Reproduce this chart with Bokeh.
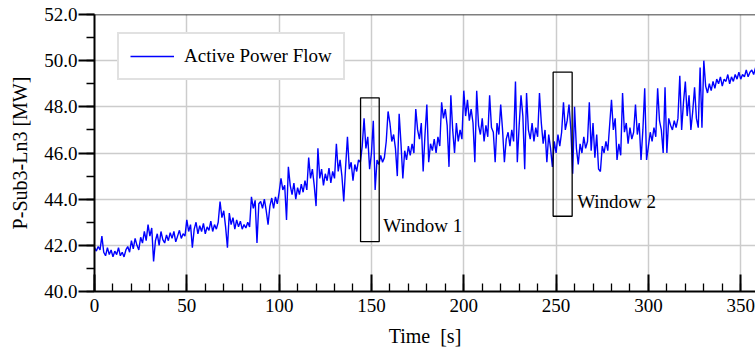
from bokeh.plotting import figure
from bokeh.models import Range1d, Legend, LegendItem, PrintfTickFormatter, SingleIntervalTicker, Span
from bokeh.core.properties import value
from bokeh.embed import file_html
from bokeh.resources import INLINE

# ---- data (one sample per second) ----
power_mw = [
    41.9, 41.75, 41.95, 41.8, 42.4, 41.7, 41.55, 41.9, 41.6, 41.8,
    41.5, 41.75, 41.6, 41.9, 41.55, 41.7, 41.5, 41.8, 41.95, 41.7,
    42.2, 41.85, 42.3, 42.0, 41.8, 42.35, 42.1, 42.6, 42.2, 42.9,
    42.4, 42.75, 41.3, 42.2, 42.5, 42.0, 42.6, 42.25, 42.1, 42.45,
    42.2, 42.55, 42.3, 42.6, 42.15, 42.4, 42.65, 42.3, 42.5, 42.4,
    43.1, 42.6, 42.9, 41.9, 42.7, 43.0, 42.5, 42.85, 42.6, 42.95,
    42.5, 42.8, 42.65, 43.05, 42.6, 42.9, 42.7, 43.0, 43.9, 43.2,
    43.5, 42.8, 41.9, 43.4, 42.9, 43.2, 42.7, 43.1, 42.8, 43.05,
    42.7, 42.9, 42.75, 43.0, 42.8, 44.1, 43.6, 43.95, 42.1, 43.8,
    43.9, 43.6, 44.0, 43.5, 42.9, 43.7, 44.05, 43.6, 44.1, 43.8,
    44.3, 44.9, 44.4, 44.6, 43.1, 45.4, 44.6, 44.2, 44.7, 44.0,
    44.5, 44.2, 44.65, 44.3, 44.8, 44.4, 45.8, 44.9, 45.3, 44.6,
    43.7, 46.2, 44.9, 45.3, 44.6, 45.1, 44.8, 45.35, 44.7, 45.2,
    44.9, 46.4, 45.2, 45.7, 45.0, 43.9, 45.4, 46.7, 45.3, 45.6,
    44.8, 45.5, 45.2, 45.7, 45.6, 46.3, 47.5, 46.2, 46.7, 45.3,
    46.0, 47.4, 44.4, 45.7, 45.5, 45.9, 45.6, 45.8, 46.5, 47.8,
    47.3, 46.5, 46.8, 46.2, 45.0, 47.7, 46.4, 44.9, 46.1, 45.7,
    46.3, 45.9, 46.4, 46.0, 47.9, 47.0, 46.6, 47.3, 45.2, 46.8,
    48.1, 45.6, 46.4, 46.1, 46.6, 46.0, 46.7, 46.3, 48.2, 47.5,
    47.9, 47.2, 45.4, 48.5, 47.0, 46.0, 47.3, 46.5, 47.0, 46.6,
    48.7, 47.6, 48.3, 47.4, 47.9, 47.3, 45.6, 48.7, 47.2, 46.8,
    47.5, 46.5, 47.2, 46.7, 48.5, 47.1, 46.9, 45.6, 47.3, 46.8,
    48.1, 47.0, 45.6, 46.6, 46.9, 46.3, 47.0, 46.5, 49.1, 45.6,
    47.2, 48.5, 47.6, 45.3, 48.6, 47.0, 46.6, 47.3, 46.5, 47.1,
    46.7, 48.6, 47.3, 46.4, 47.0, 45.6, 46.8, 46.2, 45.4, 46.5,
    46.0, 46.8, 46.3, 46.9, 48.2, 47.0, 47.4, 48.1, 47.0, 45.1,
    48.0, 46.2, 45.5, 46.4, 46.0, 46.7, 46.2, 46.5, 48.2, 46.1,
    47.3, 45.8, 46.8, 45.3, 45.2, 46.3, 46.0, 46.5, 46.1, 47.2,
    48.3, 47.0, 47.5, 45.7, 46.4, 45.9, 48.6, 46.9, 47.3, 46.4,
    47.1, 46.6, 46.9, 48.1, 46.8, 47.3, 45.7, 47.0, 48.8, 45.7,
    46.3, 46.9, 46.5, 47.1, 46.7, 48.8, 47.4, 47.0, 46.0, 48.85,
    46.0, 47.5, 47.2, 47.0, 47.4, 47.1, 47.5, 49.35, 47.0, 48.2,
    49.1, 47.6, 48.5, 47.0, 47.8, 48.85, 47.5, 47.1, 49.7, 47.1,
    50.0, 48.9, 48.6, 49.0, 48.7, 49.1, 48.8, 49.2, 49.0, 49.3,
    48.9, 49.2, 49.1, 49.4, 49.0, 49.3, 49.1, 49.4, 49.2, 49.5,
    49.2, 49.4, 49.3, 49.6, 49.3, 49.5, 49.6, 49.4, 49.7,
]
time_s = list(range(len(power_mw)))

# analysis windows (annotations)
win_names = ["Window 1", "Window 2"]
win_t0 = [144.1, 248.4]
win_t1 = [154.2, 258.7]
win_lo = [42.16, 43.26]
win_hi = [48.39, 49.5]
win_label_t = [156.4, 261.4]
win_label_v = [42.86, 43.9]

FONT = "Liberation Serif"
FS = "19px"
FS_AX = "20px"

p = figure(width=755, height=352, output_backend="svg", toolbar_location=None,
           x_range=Range1d(0, 358), y_range=Range1d(40, 52),
           min_border_left=94, min_border_right=0, min_border_top=14, min_border_bottom=61,
           background_fill_color="white", border_fill_color="white")
p.outline_line_color = None

r = p.line(time_s, power_mw, line_color="#0000ff", line_width=1.4)

p.quad(left=win_t0, right=win_t1, bottom=win_lo, top=win_hi,
       fill_alpha=0, line_color="black", line_width=1.3)
p.text(x=win_label_t, y=win_label_v, text=win_names,
       text_font=value(FONT), text_font_size=FS, text_color="black",
       text_baseline="alphabetic", text_align="left")

# top border
p.add_layout(Span(location=52, dimension="width", line_color="black", line_width=1.5))

# grid
for g in (p.xgrid, p.ygrid):
    g.grid_line_color = "#cccccc"
    g.grid_line_width = 1.5

# x axis
xa = p.xaxis[0]
xa.ticker = SingleIntervalTicker(interval=50, num_minor_ticks=5)
xa.axis_label = "Time \u00a0[s]"
xa.axis_line_width = 2
xa.major_tick_in = 17
xa.major_tick_out = 0
xa.minor_tick_in = 8
xa.minor_tick_out = 0
xa.major_tick_line_width = 2
xa.minor_tick_line_width = 1.3
xa.major_label_standoff = 7
xa.axis_label_standoff = 10

# y axis
ya = p.yaxis[0]
ya.ticker = SingleIntervalTicker(interval=2, num_minor_ticks=2)
ya.formatter = PrintfTickFormatter(format="%.1f")
ya.axis_label = "P-Sub3-Ln3 [MW]"
ya.axis_line_width = 2
ya.major_tick_in = 0
ya.major_tick_out = 16
ya.minor_tick_in = 0
ya.minor_tick_out = 8
ya.major_tick_line_width = 2
ya.minor_tick_line_width = 1.3
ya.major_label_standoff = 1
ya.axis_label_standoff = 10

for ax in (xa, ya):
    ax.axis_line_color = "black"
    ax.major_tick_line_color = "black"
    ax.minor_tick_line_color = "black"
    ax.major_label_text_font = FONT
    ax.major_label_text_font_size = FS
    ax.major_label_text_color = "black"
    ax.axis_label_text_font = FONT
    ax.axis_label_text_font_size = FS_AX
    ax.axis_label_text_font_style = "normal"
    ax.axis_label_text_color = "black"

legend = Legend(items=[LegendItem(label="Active Power Flow", renderers=[r])],
                location=(23, 211), orientation="vertical",
                glyph_width=44, glyph_height=20, label_standoff=10,
                padding=11, margin=0, spacing=0,
                border_line_color="#c4c4c4", border_line_width=2,
                background_fill_color="white", background_fill_alpha=1,
                label_text_font=FONT, label_text_font_size=FS, label_text_color="black")
p.add_layout(legend)

open("out.html", "w").write(file_html(p, INLINE))
